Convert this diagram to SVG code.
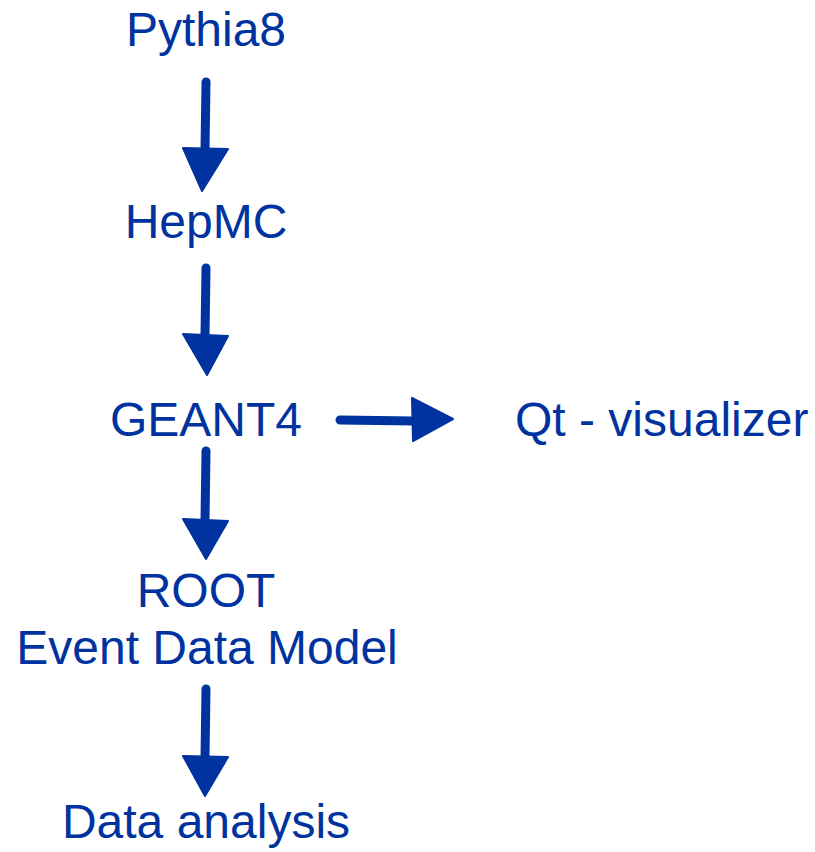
<svg xmlns="http://www.w3.org/2000/svg" width="815" height="852" viewBox="0 0 815 852">
<style>
text{font-family:"Liberation Sans",Arial,sans-serif;font-size:48px;fill:#0033A0;text-anchor:middle}
.shaft{stroke:#0033A0;stroke-width:9;stroke-linecap:round;fill:none}
.head{fill:#0033A0;stroke:#0033A0;stroke-width:2;stroke-linejoin:round}
</style>
<rect width="815" height="852" fill="#fff"/>
<g id="pythia8"><text x="206" y="46">Pythia8</text></g>
<g id="hepmc"><text x="206" y="238">HepMC</text></g>
<g id="geant4"><text x="206" y="436">GEANT4</text></g>
<g id="qt"><text x="515" y="436" style="text-anchor:start">Qt - visualizer</text></g>
<g id="root"><text x="206" y="607">ROOT</text><text x="207" y="664">Event Data Model</text></g>
<g id="analysis"><text x="206" y="838">Data analysis</text></g>
<g id="connectors">
<path class="shaft" d="M206,82 L205,150"/>
<path class="head" d="M183,148 L228,149 L202,191 Z"/>
<path class="shaft" d="M206,268 L205,335"/>
<path class="head" d="M183,334 L228,336 L207,375 Z"/>
<path class="shaft" d="M206,451 L205,520"/>
<path class="head" d="M183,519 L228,521 L206,559 Z"/>
<path class="shaft" d="M206,689 L205,757"/>
<path class="head" d="M183,756 L228,757 L205,796 Z"/>
<path class="shaft" d="M340,420 L414,421"/>
<path class="head" d="M412,398 L453,419 L413,441 Z"/>
</g>
</svg>
